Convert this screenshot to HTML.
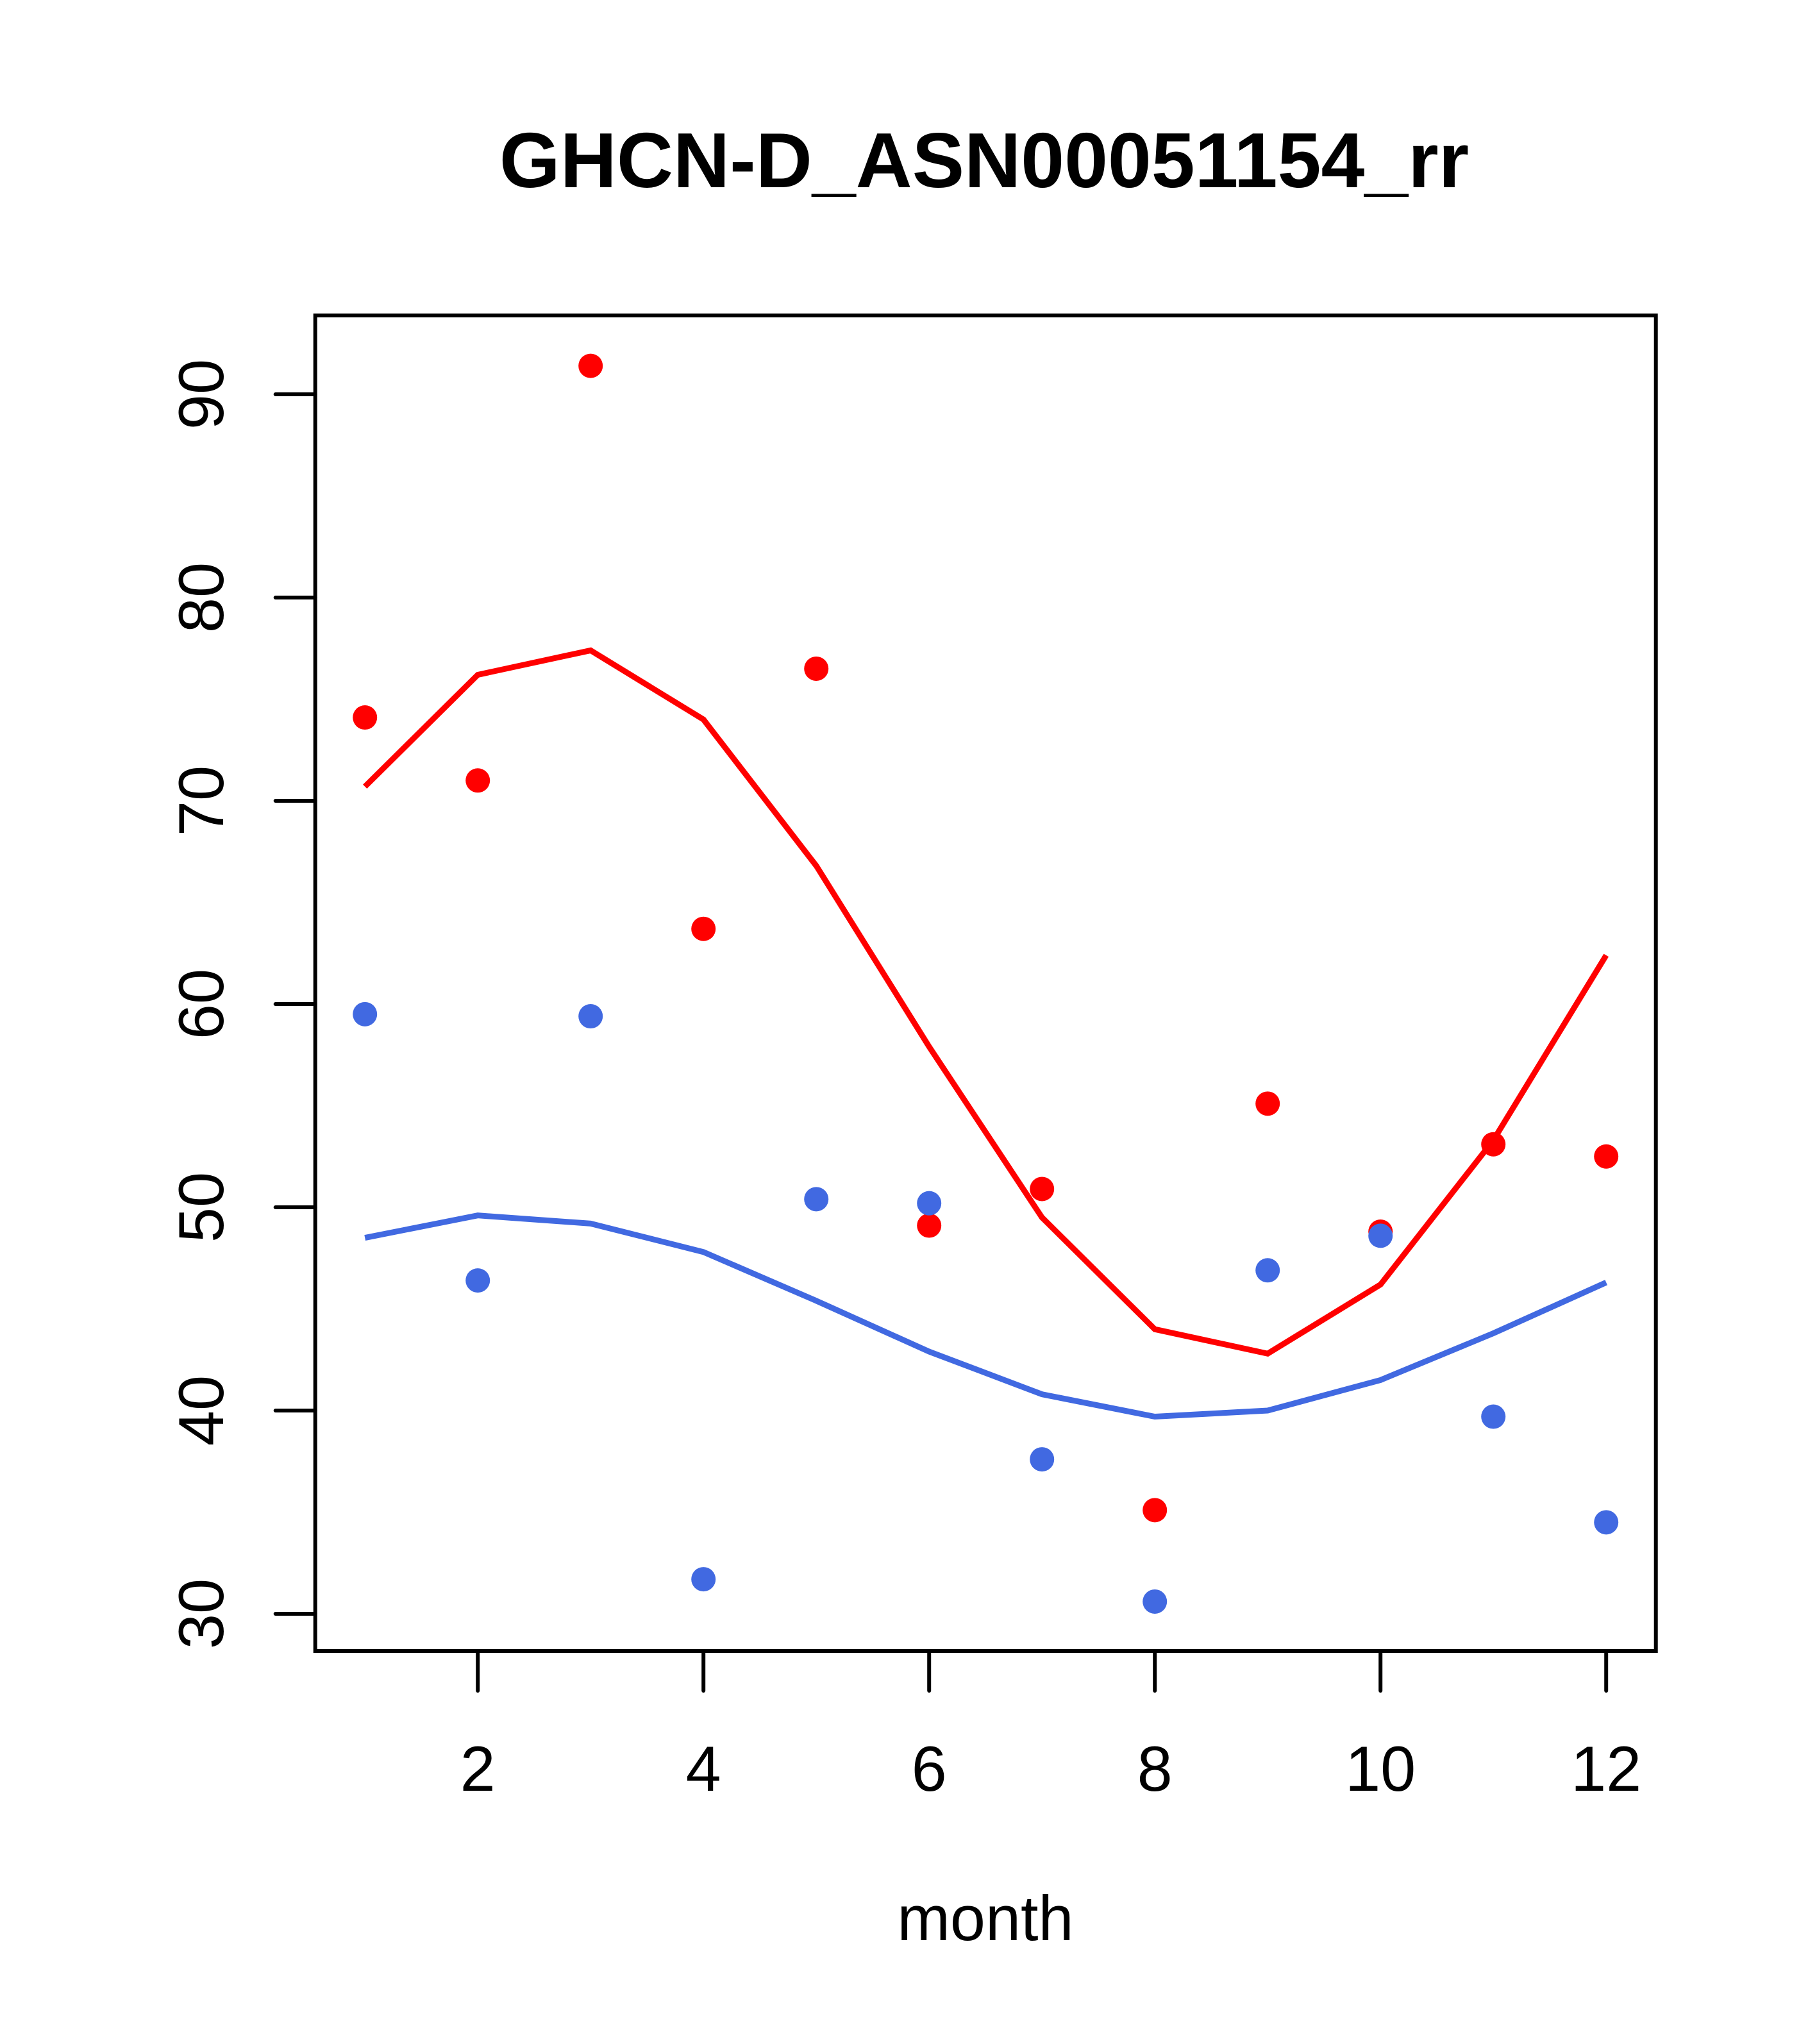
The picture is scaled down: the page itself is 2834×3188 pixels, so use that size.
<!DOCTYPE html>
<html><head><meta charset="utf-8"><style>html,body{margin:0;padding:0;background:#fff}svg{display:block}</style></head>
<body>
<svg id="chart" width="2834" height="3188" xmlns="http://www.w3.org/2000/svg" font-family="Liberation Sans, sans-serif">
<rect width="2834" height="3188" fill="#fff"/>
<text x="1535" y="292" font-size="122" font-weight="bold" text-anchor="middle">GHCN-D_ASN00051154_rr</text>
<text x="1537" y="3026" font-size="99" text-anchor="middle">month</text>
<g id="plot"></g>
</svg>
<script>
const months = [1,2,3,4,5,6,7,8,9,10,11,12];
const redPoints = [74.1,71.0,91.4,63.7,76.5,49.1,50.9,35.1,55.1,48.8,53.1,52.5];
const bluePoints = [59.5,46.4,59.4,31.7,50.4,50.2,37.6,30.6,46.9,48.6,39.7,34.5];
const redLine = [70.7,76.2,77.4,74.0,66.8,57.9,49.5,44.0,42.8,46.2,53.3,62.4];
const blueLine = [48.5,49.6,49.2,47.8,45.4,42.9,40.8,39.7,40.0,41.5,43.8,46.3];
const xTicks = [2,4,6,8,10,12];
const yTicks = [30,40,50,60,70,80,90];

const L=491.7,R=2582.7,T=492,B=2575;
const X=v=>569.2+(v-1)*176.0;
const Y=v=>2517-(v-30)*31.7;
const NS='http://www.w3.org/2000/svg';
const g=document.getElementById('plot');
function mk(tag,attrs){const e=document.createElementNS(NS,tag);for(const k in attrs)e.setAttribute(k,attrs[k]);g.appendChild(e);return e;}

let fr=mk('rect',{x:L,y:T,width:R-L,height:B-T,fill:'none',stroke:'#000','stroke-width':6});



xTicks.forEach(t=>{
  const l=mk('line',{x1:X(t),x2:X(t),y1:B,y2:B+62,stroke:'#000','stroke-width':6,'stroke-linecap':'round'});
  
  
  const tx=mk('text',{x:X(t),y:2793,'font-size':99,'text-anchor':'middle'});
  tx.textContent=t;
  
  
});
yTicks.forEach(t=>{
  const l=mk('line',{x1:L,x2:L-62,y1:Y(t),y2:Y(t),stroke:'#000','stroke-width':6,'stroke-linecap':'round'});
  
  
  const tx=mk('text',{x:0,y:0,'font-size':99,'text-anchor':'middle',transform:`translate(348,${Y(t)}) rotate(-90)`});
  tx.textContent=t;
  
  
});

function line(vals,color,name){
  const p=mk('polyline',{points:months.map((m,i)=>X(m)+','+Y(vals[i])).join(' '),fill:'none',stroke:color,'stroke-width':9});
  
  
}
function pts(vals,color,name){
  months.forEach((m,i)=>{
    const c=mk('circle',{cx:X(m),cy:Y(vals[i]),r:19,fill:color});
    
    
  });
}
line(redLine,'#ff0000','red-smooth-line');
line(blueLine,'#4169e1','blue-smooth-line');
pts(redPoints,'#ff0000','red-point');
pts(bluePoints,'#4169e1','blue-point');
</script>
</body></html>
